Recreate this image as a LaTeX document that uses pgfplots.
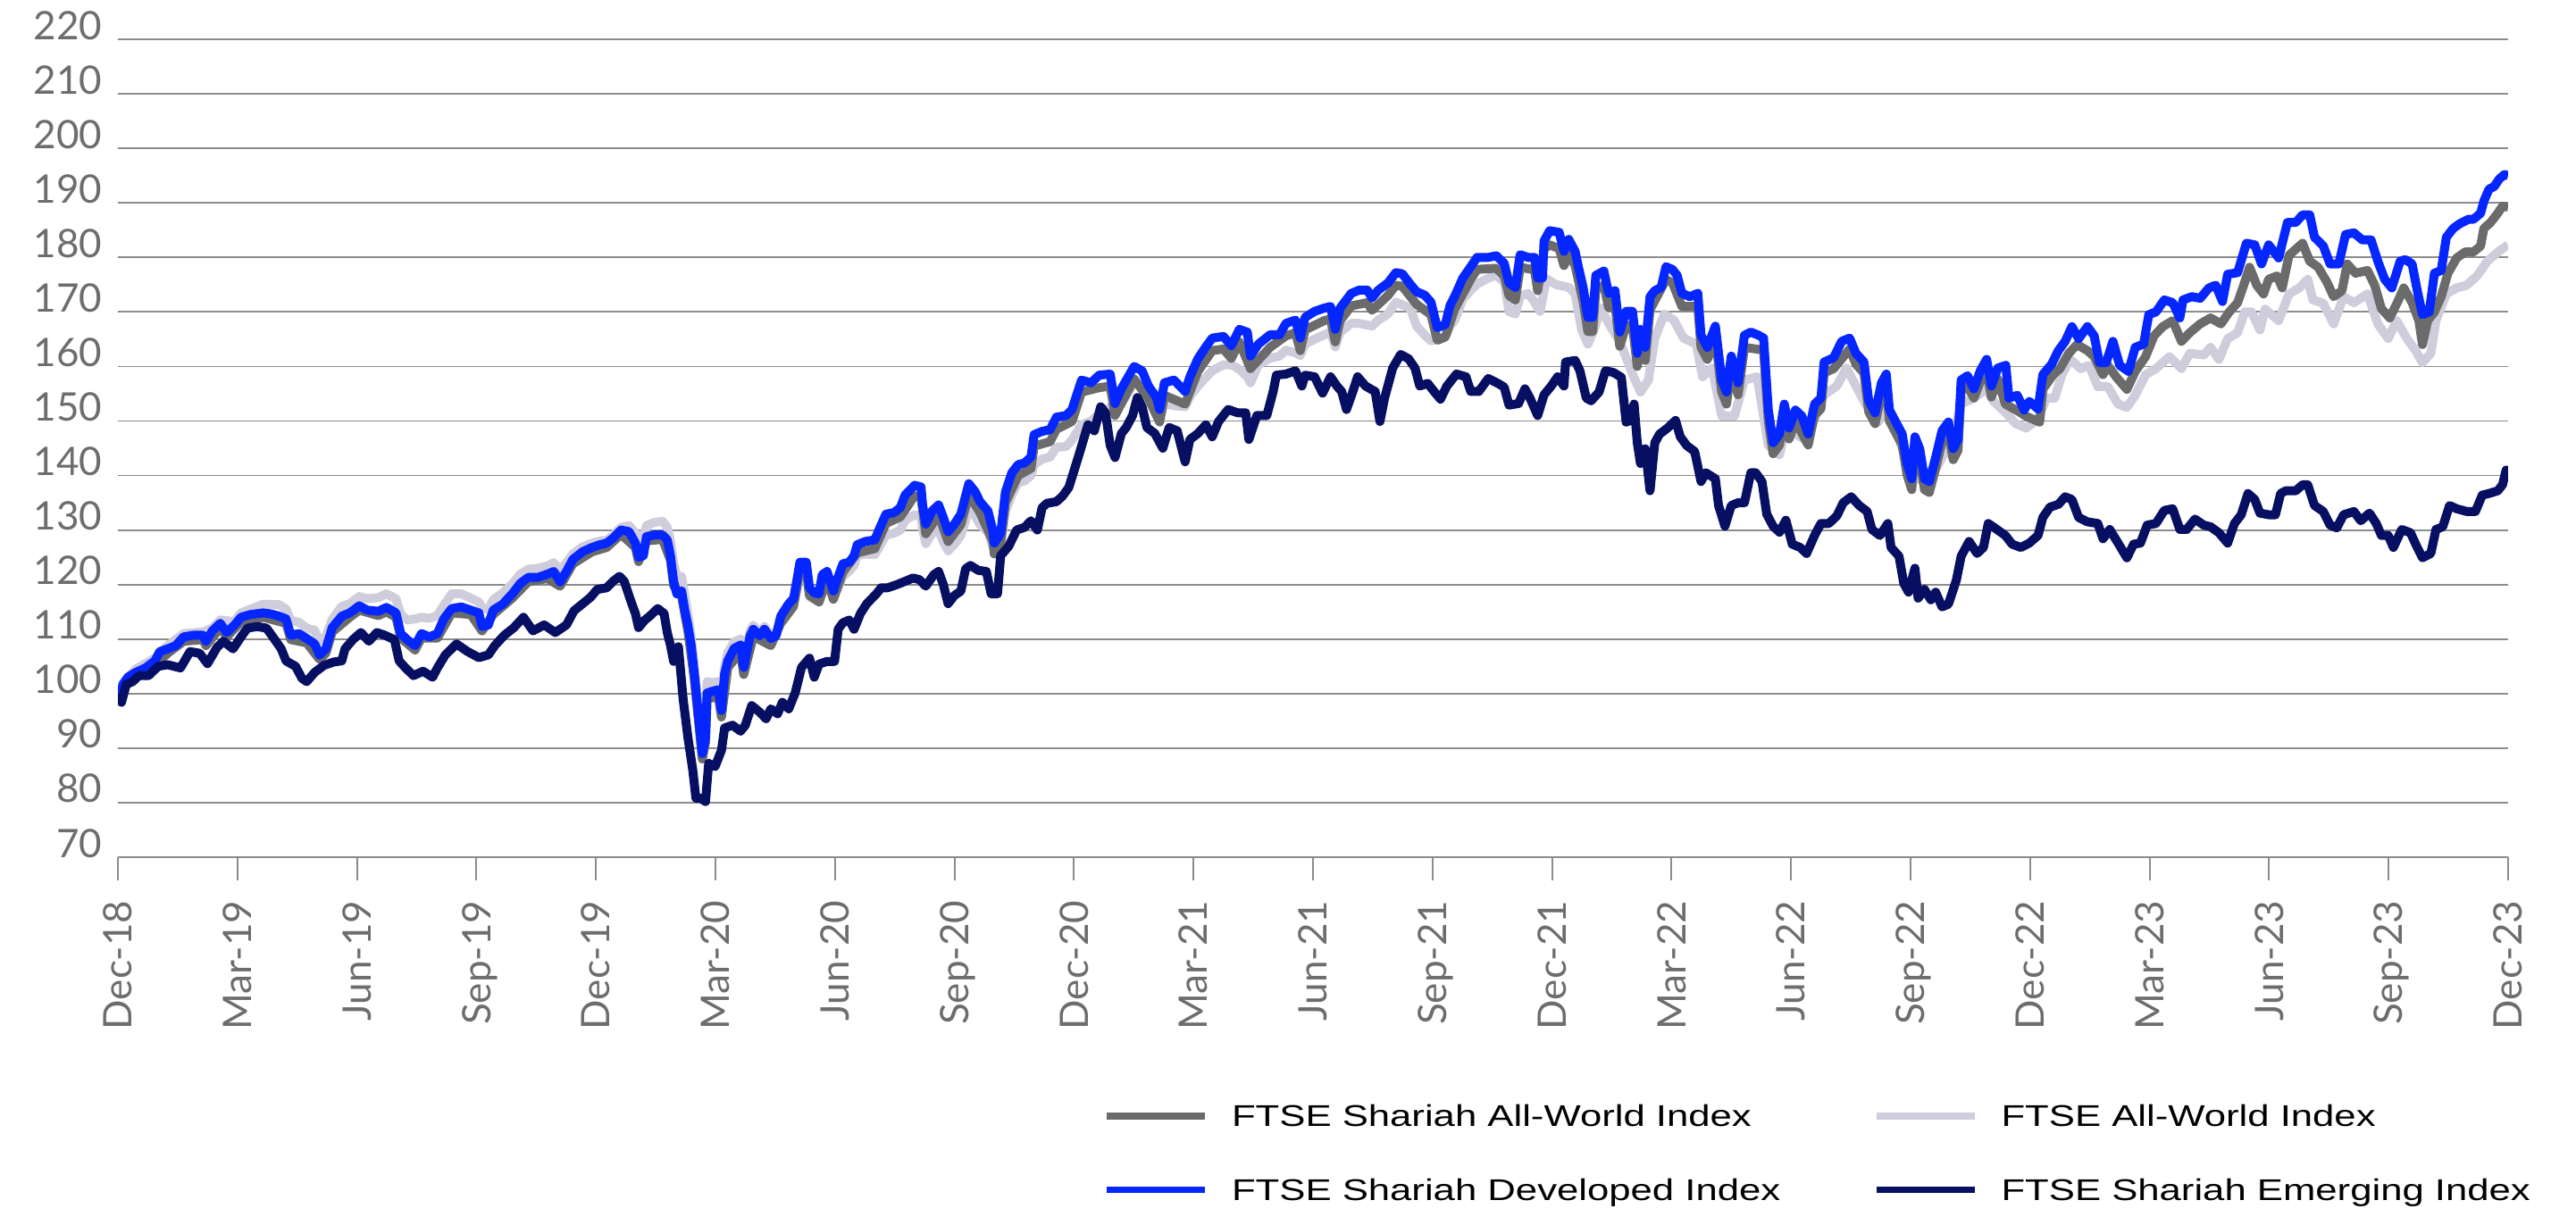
\documentclass[border=0pt]{standalone}
\usepackage{fontspec}
\setmainfont{Liberation Sans}
\newfontfamily\ticksfont{Lato}
\newfontfamily\legendfont[FakeStretch=1.3]{Liberation Sans}
\usepackage{pgfplots}
\pgfplotsset{compat=1.18}
\definecolor{swgray}{HTML}{6B6B6B}
\definecolor{awlight}{HTML}{CFCCDB}
\definecolor{devblue}{HTML}{0526FF}
\definecolor{emnavy}{HTML}{060F62}
\definecolor{gridgray}{HTML}{8C8C8C}
\definecolor{labelgray}{HTML}{6D6D6D}

\begin{document}
\begin{tikzpicture}
\useasboundingbox (-33pt,-100.5pt) rectangle (688pt,240pt);
\begin{axis}[
  at={(0pt,0pt)}, anchor=south west,
  scale only axis, width=669pt, height=229pt,
  xmin=0, xmax=60, ymin=70, ymax=220,
  xtick={0,3,...,60},
  xticklabels={Dec-18,Mar-19,Jun-19,Sep-19,Dec-19,Mar-20,Jun-20,Sep-20,Dec-20,Mar-21,Jun-21,Sep-21,Dec-21,Mar-22,Jun-22,Sep-22,Dec-22,Mar-23,Jun-23,Sep-23,Dec-23},
  ytick={70,80,...,220},
  /pgf/number format/assume math mode=true,
  axis x line*=bottom, axis y line*=left,
  y axis line style={draw=none},
  x axis line style={draw=gridgray, line width=0.5pt},
  tick align=outside, major tick length=6.5pt,
  xtick style={draw=gridgray, line width=0.5pt},
  ytick style={draw=none},
  ymajorgrids, grid style={draw=gridgray, line width=0.45pt},
  tick label style={font=\ticksfont\fontsize{11}{13}\selectfont, text=labelgray},
  x tick label style={rotate=90, anchor=east, text height=7.9pt, text depth=0pt, inner sep=0pt},
  xticklabel shift=5.5pt,
  y tick label style={anchor=base east, inner sep=0pt, xshift=2.3pt},
  legend columns=2,
  legend image code/.code={\draw[#1] (0pt,0pt) -- (27.5pt,0pt);},
  legend style={draw=none, fill=none, inner sep=0pt, at={(0.4122,-0.3026)}, anchor=north west,
    font=\legendfont\fontsize{8.4}{10}\selectfont, row sep=14.7pt,
    nodes={inner sep=0pt, text height=6pt, text depth=0pt},
    /tikz/every odd column/.append style={column sep=6.5pt},
    /tikz/every even column/.append style={column sep=26pt}},
  legend cell align=left,
  every axis plot/.append style={line width=2.5pt, line join=round},
]
\addlegendimage{swgray, line width=1.8pt}
\addlegendentry{FTSE Shariah All-World Index}
\addlegendimage{awlight, line width=1.8pt}
\addlegendentry{FTSE All-World Index}
\addlegendimage{devblue, line width=1.8pt}
\addlegendentry{FTSE Shariah Developed Index}
\addlegendimage{emnavy, line width=1.8pt}
\addlegendentry{FTSE Shariah Emerging Index}

% FTSE All-World Index
\addplot[awlight, forget plot] coordinates {
(0,100) (0.13,102) (0.45,104.5) (0.93,106.5) (1.25,108.8) (1.65,111) (2.13,111.3) (2.37,112) (2.57,113.5) (2.93,113.2)
(3.09,114.8) (3.33,115.5) (3.65,116.4) (4.05,116.3) (4.22,115.5) (4.34,113.4) (4.54,113.1) (4.74,112) (4.94,111.6) (5.06,109.5)
(5.22,110.5) (5.38,113.6) (5.62,116) (5.82,116.5) (6.06,117.8) (6.26,117.4) (6.54,117.6) (6.74,118.3) (6.98,117.4) (7.10,114.5)
(7.26,113.5) (7.46,113.7) (7.62,114) (7.82,113.8) (8.02,114.3) (8.18,116.2) (8.38,118.3) (8.62,118.3) (8.86,117.5) (9.06,116.8)
(9.14,115.8) (9.30,115.4) (9.42,117.2) (9.66,118.5) (9.90,120.1) (10.10,121.9) (10.30,122.8) (10.54,123) (10.78,123.4) (10.94,124)
(11.10,122.6) (11.26,124) (11.42,125.6) (11.66,126.9) (11.90,127.6) (12.10,128) (12.27,128.1) (12.43,129) (12.63,130.5) (12.83,130.8)
(12.99,129.5) (13.07,127.5) (13.19,128.3) (13.27,130.8) (13.47,131.4) (13.67,131.6) (13.79,130.5) (13.87,128) (13.95,124) (14.03,121.5)
(14.15,121.5) (14.23,118) (14.31,114.5) (14.39,110.5) (14.47,105) (14.59,96) (14.67,90.5) (14.75,94) (14.79,102.2) (14.91,102)
(15.07,102.2) (15.15,99) (15.23,105) (15.31,107.5) (15.47,109.5) (15.63,110) (15.71,106) (15.87,111.5) (15.95,112.5) (16.11,111.3)
(16.23,112.3) (16.39,110.5) (16.52,110.8) (16.64,113.8) (16.84,115.5) (16.96,116.2) (17.04,118.8) (17.12,121.5) (17.28,121.8) (17.36,117.8)
(17.48,117.3) (17.60,117.4) (17.68,119.6) (17.80,120.6) (17.96,117.4) (18.04,118.8) (18.20,121.5) (18.36,122.5) (18.48,123.5) (18.56,125.3)
(18.76,125.6) (19.00,125.5) (19.12,127) (19.28,129.1) (19.48,129.4) (19.64,130) (19.76,131.8) (20.00,132.8) (20.16,132.5) (20.20,130.2)
(20.28,127.5) (20.44,129.4) (20.60,130) (20.72,127.8) (20.84,126.2) (21.00,127.4) (21.16,129) (21.36,133.8) (21.52,132.6) (21.64,131)
(21.84,129.6) (21.96,127.1) (22.00,126.5) (22.16,127.3) (22.28,133.5) (22.44,136.5) (22.60,138.7) (22.76,139) (22.92,140) (23.00,142)
(23.20,143) (23.40,143.4) (23.56,145.2) (23.80,145.3) (23.95,146.5) (24.19,149.3) (24.43,150) (24.67,151.5) (24.91,152.5) (25.03,151.5)
(25.19,153.2) (25.51,157) (25.71,156.5) (25.87,155.4) (26.07,152.5) (26.15,150.4) (26.27,153.2) (26.51,152.8) (26.79,152.6) (26.91,154.5)
(27.11,156.4) (27.31,158) (27.47,159.2) (27.75,160.3) (27.95,160.3) (28.15,159.5) (28.35,158.1) (28.43,157) (28.63,160.3) (28.92,161.5)
(29.16,161.9) (29.32,163) (29.56,162.5) (29.68,162) (29.80,164.1) (30.04,165) (30.28,165.8) (30.44,166.3) (30.56,163.6) (30.68,166.3)
(30.96,167.9) (31.16,167.9) (31.48,167.4) (31.64,168.5) (31.88,169.6) (32.08,171.8) (32.24,171.3) (32.44,170.7) (32.60,167.4) (32.80,165.8)
(32.96,164.7) (33.12,165.2) (33.32,165.4) (33.44,167.4) (33.56,168.5) (33.76,172.3) (33.96,174) (34.12,175.1) (34.40,176.2) (34.60,176.7)
(34.80,175.5) (34.92,170.1) (35.08,169.6) (35.20,172.9) (35.40,173.4) (35.56,171.8) (35.70,170.1) (35.86,176.1) (36.10,175) (36.42,174.5)
(36.58,173.4) (36.74,166.8) (36.90,164.1) (37.06,166.8) (37.22,170.7) (37.46,167.4) (37.70,164.6) (38.02,158.6) (38.22,155.3) (38.42,157.5)
(38.58,165.2) (38.82,169.6) (39.06,168.5) (39.30,165.2) (39.62,164.1) (39.78,158.1) (40.02,159.7) (40.26,150.9) (40.58,150.9) (40.83,157.5)
(41.15,158.1) (41.43,145.5) (41.71,143.8) (41.87,148.7) (42.11,147.6) (42.35,146.6) (42.59,150.4) (42.83,154.8) (43.15,156.4) (43.39,159.7)
(43.55,157.5) (43.87,153.1) (44.19,149.8) (44.43,153.1) (44.67,147.6) (44.99,140.5) (45.31,138.9) (45.55,140) (45.79,143.3) (46.03,146)
(46.27,153.1) (46.59,154.2) (46.91,155.9) (47.07,153.7) (47.39,151.5) (47.64,149.5) (47.90,148.7) (48.20,150.3) (48.41,154.2) (48.62,154.2)
(48.80,158.5) (49.01,161.3) (49.27,159.6) (49.48,160.2) (49.70,156.3) (49.95,156.3) (50.21,153.1) (50.43,152.5) (50.64,154.7) (50.90,158.5)
(51.16,159.6) (51.50,161.8) (51.80,159.6) (52.01,162.4) (52.36,162.1) (52.53,163.5) (52.74,161.3) (52.96,165.1) (53.21,166.2) (53.39,170)
(53.56,170) (53.77,166.7) (53.90,170.5) (54.24,168.4) (54.50,173.3) (54.76,174.4) (54.97,176) (55.10,172.2) (55.36,171.6) (55.62,167.8)
(55.87,172.8) (56.13,171.7) (56.47,173.3) (56.73,167.8) (56.99,165.1) (57.20,168.4) (57.46,165.1) (57.68,162.9) (57.85,160.7) (58.06,162.4)
(58.19,168.4) (58.45,173.3) (58.70,174.4) (58.96,174.9) (59.22,176.6) (59.48,179.3) (59.65,180.4) (59.78,181.2) (60.00,182.3)
};

% FTSE Shariah All-World Index
\addplot[swgray, forget plot] coordinates {
(0,100) (0.13,101) (0.45,103.1) (0.93,105.2) (1.25,107.4) (1.65,109.6) (2.13,109.9) (2.21,108.8) (2.57,112.1) (2.73,110.4)
(3.09,113.2) (3.65,114) (4.22,112.9) (4.34,109.9) (4.74,109.3) (5.06,106.3) (5.22,107.4) (5.38,111.3) (5.82,114) (6.06,115.3)
(6.54,114.3) (6.74,115) (6.98,114) (7.10,110.2) (7.46,108) (7.62,110.2) (8.02,110.2) (8.38,114.8) (8.86,114.5) (9.14,111.5)
(9.42,114.5) (9.90,117.5) (10.30,120.5) (10.78,121.1) (11.10,119.7) (11.42,123.8) (11.90,126) (12.27,126.8) (12.63,129.2) (12.99,126.8)
(13.07,124.2) (13.27,128) (13.67,128.3) (13.87,124.5) (13.95,119.8) (14.15,117.8) (14.31,111.4) (14.47,102.6) (14.67,88) (14.75,91)
(14.79,99) (15.07,99.5) (15.15,95.7) (15.31,104.8) (15.63,107.6) (15.71,103.5) (15.95,110.5) (16.39,108.8) (16.64,112.9) (16.96,116)
(17.12,122.7) (17.28,122.7) (17.36,118) (17.60,116.8) (17.80,121) (17.96,117.3) (18.20,122.3) (18.56,125.8) (19.00,126.6) (19.28,131.2)
(19.64,132.4) (20.00,136.3) (20.16,136) (20.28,129.3) (20.60,132.8) (20.84,127.9) (21.16,131) (21.36,136.5) (21.64,133.2) (21.96,128)
(22.00,125.6) (22.16,127.6) (22.28,135) (22.60,140) (22.92,141.3) (23.00,145.4) (23.40,146.2) (23.56,148.5) (23.95,149.9) (24.19,155.3)
(24.63,156.1) (24.91,156.4) (25.03,151) (25.51,157.7) (25.87,154.1) (26.15,149.8) (26.27,154.7) (26.79,153.1) (27.11,159.1) (27.47,162.9)
(27.75,163.2) (27.95,161.5) (28.15,164.5) (28.43,159.6) (28.92,163.5) (29.32,165.6) (29.56,166.2) (29.68,162.9) (29.80,166.7) (30.28,168.4)
(30.44,168.7) (30.56,164.5) (30.68,168.4) (30.96,171.1) (31.36,171.7) (31.48,170.3) (31.88,173) (32.08,174.9) (32.24,174.7) (32.60,171.4)
(32.96,169.5) (33.12,164.8) (33.32,165.4) (33.56,170.6) (33.96,176) (34.12,177.8) (34.60,178) (34.80,176.6) (34.92,173) (35.08,172.2)
(35.20,178.2) (35.56,177.7) (35.64,173.9) (35.80,181.5) (35.94,182.3) (36.18,181.6) (36.30,178.5) (36.42,180.7) (36.58,178.5) (36.78,171.9)
(36.90,166.4) (37.02,166.4) (37.10,174.1) (37.30,174.9) (37.42,170.8) (37.58,171.3) (37.70,163.7) (37.86,167.5) (38.02,167.5) (38.14,160)
(38.22,164.4) (38.34,161.1) (38.46,170.4) (38.86,175.9) (39.02,175.4) (39.26,171) (39.66,171) (39.74,163.5) (39.90,161.3) (40.10,165.2)
(40.26,155.3) (40.38,153.1) (40.50,159.7) (40.67,154.8) (40.83,163.5) (41.31,163) (41.43,150) (41.55,144) (41.71,145.6) (41.83,151.1)
(41.95,146.7) (42.11,150) (42.43,145.6) (42.59,151.1) (42.75,152.2) (42.83,158.8) (43.07,159.6) (43.47,163.2) (43.63,160.4) (43.83,158.8)
(43.95,151.7) (44.11,149.5) (44.27,155) (44.39,156.6) (44.47,150) (44.79,145.6) (44.91,140.2) (45.03,137.4) (45.11,145.1) (45.23,142.9)
(45.35,137.4) (45.47,136.9) (45.63,141.3) (45.79,146.2) (45.95,147.8) (46.07,142.9) (46.19,144.6) (46.27,155.5) (46.43,156.3) (46.59,154.2)
(46.75,157.2) (46.91,159) (47.03,154.4) (47.19,157.7) (47.38,153.1) (47.72,151.7) (47.89,150.9) (48.24,149.8) (48.32,155.8) (48.58,158.5)
(48.75,159.6) (48.97,162.4) (49.18,164) (49.44,162.9) (49.61,161.8) (49.83,158.5) (49.95,160.2) (50.17,158) (50.43,155.8) (50.64,159.1)
(50.90,161.8) (51.11,165.6) (51.33,167.3) (51.58,168.4) (51.80,164.6) (52.01,166.2) (52.27,167.8) (52.53,168.9) (52.79,167.8) (53.00,170)
(53.21,171.7) (53.39,175.5) (53.51,178.2) (53.69,174.9) (53.86,173.3) (53.99,176) (54.20,176.6) (54.33,174.4) (54.50,180.4) (54.67,181.5)
(54.84,182.6) (55.02,179.3) (55.23,178.2) (55.45,175.5) (55.62,172.8) (55.83,173.9) (55.96,178.8) (56.17,177.1) (56.47,177.6) (56.65,174.9)
(56.82,170.6) (57.03,168.9) (57.25,172.2) (57.38,174.4) (57.59,171.7) (57.76,168.4) (57.85,164) (57.98,168.4) (58.15,170) (58.32,172.8)
(58.49,177.1) (58.71,179.9) (58.92,181) (59.13,181) (59.31,182.1) (59.39,185.3) (59.56,186.4) (59.74,188.1) (59.86,189.4) (60.00,189.2)
};

% FTSE Shariah Developed Index
\addplot[devblue, forget plot] coordinates {
(0,100) (0.05,99.5) (0.13,101.7) (0.25,103) (0.45,103.9) (0.69,104.7) (0.93,106) (1.05,107.7) (1.25,108.2) (1.45,108.8)
(1.65,110.4) (1.89,110.7) (2.13,110.7) (2.21,109.6) (2.37,111.5) (2.57,112.9) (2.73,111.2) (2.93,112.6) (3.09,114) (3.33,114.5)
(3.65,114.8) (3.85,114.6) (4.05,114.2) (4.22,113.7) (4.34,110.7) (4.54,111) (4.74,110.1) (4.94,109.1) (5.06,107.1) (5.22,108.2)
(5.38,112.1) (5.62,114.2) (5.82,114.8) (6.06,116.1) (6.26,115.3) (6.54,115.1) (6.74,115.8) (6.98,114.8) (7.10,111) (7.26,109.9)
(7.46,108.8) (7.62,111) (7.82,110.4) (8.02,111) (8.18,113.7) (8.38,115.6) (8.62,115.9) (8.86,115.3) (9.06,114.8) (9.14,112.3)
(9.30,112.6) (9.42,115.3) (9.66,116.4) (9.90,118.3) (10.10,120.2) (10.30,121.3) (10.54,121.3) (10.78,121.9) (10.94,122.4) (11.10,120.5)
(11.26,122.4) (11.42,124.6) (11.66,126) (11.90,126.8) (12.10,127.3) (12.27,127.6) (12.43,128.5) (12.63,130) (12.83,129.7) (12.99,127.6)
(13.07,125) (13.19,125.3) (13.27,128.8) (13.47,129.1) (13.67,129.1) (13.79,128.2) (13.87,125.3) (13.95,120.6) (14.03,118.3) (14.15,118.8)
(14.23,115.3) (14.31,112.4) (14.39,108.9) (14.47,103.6) (14.59,94.8) (14.67,89) (14.75,91.9) (14.79,100.1) (14.91,100.4) (15.07,100.7)
(15.15,96.9) (15.23,103.6) (15.31,106) (15.47,108.3) (15.63,108.9) (15.71,104.8) (15.87,110.6) (15.95,111.8) (16.11,110.6) (16.23,111.8)
(16.39,110.1) (16.52,110.6) (16.64,114.2) (16.84,116.5) (16.96,117.4) (17.04,120.6) (17.12,124.1) (17.28,124.1) (17.36,119.4) (17.48,118.5)
(17.60,118.3) (17.68,121.8) (17.80,122.4) (17.96,118.8) (18.04,120.6) (18.20,123.8) (18.36,124.1) (18.48,125.3) (18.56,127.3) (18.76,127.9)
(19.00,128.2) (19.12,130.3) (19.28,132.9) (19.48,133.2) (19.64,134.1) (19.76,136.4) (20.00,138.2) (20.16,137.9) (20.20,134.6) (20.28,131.1)
(20.44,133.5) (20.60,134.6) (20.72,132.3) (20.84,129.7) (21.00,131.1) (21.16,132.9) (21.36,138.5) (21.52,137) (21.64,135.2) (21.84,133.5)
(21.96,130) (22.00,127.6) (22.16,129.4) (22.28,137) (22.44,140.5) (22.60,142) (22.76,142.3) (22.92,143.4) (23.00,147.5) (23.20,148.1)
(23.40,148.4) (23.56,150.7) (23.80,151) (23.95,152.1) (24.19,157.5) (24.43,157) (24.63,158.4) (24.91,158.6) (25.03,153.2) (25.19,155.9)
(25.51,160) (25.71,159.2) (25.87,156.4) (26.07,154.3) (26.15,152.1) (26.27,157) (26.51,157.5) (26.79,155.4) (26.91,158.1) (27.11,161.4)
(27.31,163.6) (27.47,165.2) (27.75,165.5) (27.95,163.8) (28.15,166.8) (28.35,166.3) (28.43,161.9) (28.63,164.1) (28.92,165.8) (29.16,165.8)
(29.32,167.9) (29.56,168.5) (29.68,165.2) (29.80,169) (30.04,170.1) (30.28,170.7) (30.44,171) (30.56,166.8) (30.68,170.7) (30.96,173.4)
(31.16,174) (31.36,174) (31.48,172.6) (31.64,174) (31.88,175.3) (32.08,177.2) (32.24,177) (32.44,175.1) (32.60,173.7) (32.80,173.1)
(32.96,171.8) (33.12,167.1) (33.32,167.7) (33.44,171.2) (33.56,172.9) (33.76,176.2) (33.96,178.3) (34.12,180) (34.40,180) (34.60,180.3)
(34.80,178.9) (34.92,175.3) (35.08,174.5) (35.20,180.5) (35.40,180) (35.56,180) (35.64,176.2) (35.76,176.2) (35.80,183) (35.94,184.9)
(36.18,184.6) (36.30,181.1) (36.42,183.3) (36.58,181.1) (36.66,178.3) (36.78,174.5) (36.90,169) (37.02,169) (37.10,176.7) (37.30,177.5)
(37.42,173.4) (37.58,173.9) (37.70,166.3) (37.86,170.1) (38.02,170.1) (38.14,162.4) (38.22,166.8) (38.34,163.5) (38.46,172.8) (38.58,173.9)
(38.74,174.5) (38.86,178.3) (39.02,177.8) (39.14,176.7) (39.26,173.4) (39.46,172.8) (39.66,173.4) (39.74,165.7) (39.90,163.5) (40.10,167.4)
(40.26,157.5) (40.38,155.3) (40.50,161.9) (40.67,157) (40.83,165.7) (40.99,166.3) (41.19,165.7) (41.31,165.2) (41.43,152) (41.55,146)
(41.71,147.6) (41.83,153.1) (41.95,148.7) (42.11,152) (42.27,150.9) (42.43,147.6) (42.59,153.1) (42.75,154.2) (42.83,160.8) (43.07,161.6)
(43.27,164.6) (43.47,165.2) (43.63,162.4) (43.83,160.8) (43.95,153.7) (44.11,151.5) (44.27,157) (44.39,158.6) (44.47,152) (44.63,149.8)
(44.79,147.6) (44.91,142.2) (45.03,139.4) (45.11,147.1) (45.23,144.9) (45.35,139.4) (45.47,138.9) (45.63,143.3) (45.79,148.2) (45.95,149.8)
(46.07,144.9) (46.19,146.6) (46.27,157.5) (46.43,158.3) (46.59,155.9) (46.75,159.2) (46.91,161.3) (47.03,156.4) (47.19,159.7) (47.39,160.2)
(47.47,154.2) (47.68,154.7) (47.85,152) (47.98,153.6) (48.20,152.2) (48.32,158.5) (48.54,160.4) (48.71,162.9) (48.88,164.6) (49.05,167.3)
(49.22,165.1) (49.44,167.3) (49.61,165.6) (49.74,160.7) (49.91,160.7) (50.08,164.6) (50.25,160.2) (50.47,159.1) (50.64,163.5) (50.85,164.1)
(50.98,169.5) (51.16,170) (51.37,172.2) (51.58,171.7) (51.76,168.9) (51.84,172.2) (52.06,172.8) (52.27,172.5) (52.49,174.4) (52.66,174.9)
(52.83,171.9) (52.96,176.9) (53.21,177.2) (53.43,182.6) (53.64,182.3) (53.81,178.8) (53.99,182.3) (54.24,179.9) (54.46,186.4) (54.67,186.4)
(54.84,187.8) (55.02,187.8) (55.14,183.7) (55.36,182.1) (55.53,178.8) (55.75,178.8) (55.92,184.2) (56.13,184.5) (56.34,183.2) (56.56,183.2)
(56.73,179.3) (56.90,176) (57.08,174.4) (57.29,179.3) (57.42,179.6) (57.59,178.8) (57.72,173.9) (57.85,169.5) (58.02,170) (58.15,177.1)
(58.32,177.6) (58.45,183.7) (58.62,185.3) (58.79,186.2) (59.01,187) (59.13,187) (59.31,188.1) (59.39,190.3) (59.52,192.5) (59.65,193)
(59.78,194.4) (59.91,195.2) (60.00,195)
};

% FTSE Shariah Emerging Index
\addplot[emnavy, forget plot] coordinates {
(0,100) (0.09,98.4) (0.21,101.7) (0.37,102.2) (0.53,103.3) (0.77,103.3) (1.01,105) (1.25,105.3) (1.57,104.7) (1.81,107.7)
(2.05,107.4) (2.25,105.5) (2.49,108.5) (2.65,109.6) (2.89,108.2) (3.09,110.4) (3.25,112) (3.50,112.3) (3.73,112) (3.89,110.4)
(4.10,108.2) (4.22,106) (4.46,105) (4.62,102.8) (4.74,102.2) (4.94,103.9) (5.18,105.2) (5.42,105.8) (5.62,106) (5.70,108.2)
(5.90,109.9) (6.10,111.2) (6.30,109.6) (6.50,111.2) (6.70,110.7) (6.94,109.9) (7.06,106) (7.22,104.7) (7.42,103.3) (7.66,104.1)
(7.90,103) (8.02,104.7) (8.22,107.1) (8.50,109.1) (8.78,107.7) (9.06,106.6) (9.30,107.1) (9.46,108.8) (9.70,110.7) (9.94,112.1)
(10.18,114) (10.42,111.5) (10.70,112.6) (10.98,111.2) (11.26,112.6) (11.45,115.2) (11.67,116.5) (11.87,117.7) (12.03,119.1) (12.27,119.4)
(12.43,120.6) (12.59,121.5) (12.71,120.6) (12.87,117.1) (12.99,114.7) (13.07,112.1) (13.23,113.5) (13.35,114.2) (13.55,115.6) (13.71,114.7)
(13.79,111.2) (13.87,108.9) (13.95,105.9) (14.07,108.6) (14.19,98.9) (14.31,91.9) (14.43,86) (14.51,80.8) (14.63,80.8) (14.75,80.2)
(14.83,87.2) (14.99,86.6) (15.15,89.6) (15.23,93.7) (15.43,94.2) (15.63,93.1) (15.75,94.2) (15.91,97.8) (16.11,96.6) (16.27,95.4)
(16.39,97.2) (16.56,96.3) (16.68,98.4) (16.84,97.2) (17.00,100.1) (17.16,104.8) (17.36,106.5) (17.48,103) (17.60,105.4) (17.80,105.9)
(17.99,105.9) (18.08,111.8) (18.20,113) (18.36,113.5) (18.48,111.8) (18.64,114.7) (18.80,116.5) (18.88,117.1) (19.04,118.3) (19.16,119.4)
(19.32,119.4) (19.56,120) (19.76,120.6) (19.96,121.2) (20.12,120.9) (20.28,119.7) (20.48,121.8) (20.60,122.4) (20.72,120) (20.84,116.5)
(21.00,118) (21.16,118.8) (21.28,122.9) (21.40,123.5) (21.60,122.6) (21.80,122.4) (21.92,118.3) (22.08,118.3) (22.16,125.3) (22.36,127)
(22.56,130) (22.76,130.5) (22.92,131.7) (23.08,130) (23.20,134.1) (23.32,134.9) (23.56,135.2) (23.71,136.2) (23.87,137.8) (23.99,140.6)
(24.15,144.4) (24.35,149.3) (24.51,148.2) (24.67,152.6) (24.79,151.5) (24.91,145.5) (25.03,143.3) (25.19,147.7) (25.31,148.8) (25.47,151)
(25.59,154.3) (25.71,152.6) (25.83,148.8) (26.03,147.7) (26.23,145) (26.39,148.8) (26.59,148.2) (26.79,142.5) (26.91,146.6) (27.11,147.7)
(27.31,149.3) (27.47,147.1) (27.63,149.9) (27.87,152.1) (28.11,151.5) (28.31,151.5) (28.39,146.6) (28.59,151) (28.84,151) (29.00,155.4)
(29.08,158.4) (29.32,158.6) (29.56,159.2) (29.72,156.4) (29.80,158.4) (30.04,158.1) (30.24,155.1) (30.44,158.1) (30.60,156.4) (30.72,155.4)
(30.84,152.1) (31.00,155.4) (31.12,158.1) (31.32,156.4) (31.56,155.4) (31.68,149.9) (31.80,154.3) (32.00,159.7) (32.20,162.2) (32.40,161.4)
(32.56,159.7) (32.68,156.4) (32.88,156.9) (33.04,155.4) (33.20,154) (33.36,156.4) (33.60,158.6) (33.84,158.1) (33.96,155.4) (34.16,155.4)
(34.40,157.8) (34.64,156.9) (34.80,156.2) (34.92,152.9) (35.16,153.2) (35.32,155.9) (35.44,154.3) (35.64,151) (35.80,154.8) (35.98,156.4)
(36.14,158.1) (36.30,156.4) (36.34,160.8) (36.58,161.1) (36.70,159.2) (36.86,154.2) (36.98,153.7) (37.18,155.3) (37.34,159.2) (37.54,158.9)
(37.74,158) (37.86,149.8) (37.94,150) (38.06,153.1) (38.14,146) (38.22,142.2) (38.34,144.9) (38.46,137.2) (38.58,146) (38.70,147.6)
(38.90,148.7) (39.10,150.1) (39.22,147.1) (39.38,145.5) (39.58,144.4) (39.74,138.9) (39.86,140.5) (40.10,139.4) (40.18,134.5) (40.34,130.7)
(40.50,134.5) (40.67,135) (40.83,135) (40.99,140.5) (41.11,140.5) (41.27,138.9) (41.39,132.9) (41.55,130.7) (41.71,129.6) (41.87,131.8)
(42.03,127.4) (42.23,126.8) (42.39,125.7) (42.59,129) (42.75,131.2) (42.95,131.2) (43.15,132.6) (43.31,135) (43.51,136.1) (43.71,134.5)
(43.91,133.4) (44.03,130.1) (44.23,129) (44.43,131.2) (44.51,126.8) (44.71,125.2) (44.83,120.2) (44.95,118.6) (45.11,123) (45.19,117.5)
(45.35,119.1) (45.51,117.2) (45.63,118.6) (45.79,115.9) (45.95,116.4) (46.15,120.8) (46.27,125.2) (46.47,127.9) (46.67,125.7) (46.83,126.8)
(46.95,131.2) (47.11,130.4) (47.38,129) (47.55,127.4) (47.77,126.8) (47.98,127.6) (48.20,129) (48.32,132.3) (48.50,134.2) (48.71,134.7)
(48.88,136.1) (49.05,135.6) (49.22,132.3) (49.44,131.5) (49.70,131.2) (49.83,128.4) (50.00,130.1) (50.21,127.6) (50.43,124.9) (50.60,127.4)
(50.77,127.6) (50.94,130.9) (51.16,131.2) (51.37,133.6) (51.58,133.9) (51.76,130.1) (51.93,130.1) (52.14,132) (52.36,130.9) (52.53,130.6)
(52.74,129.5) (52.96,127.6) (53.13,131.2) (53.30,132.8) (53.47,136.7) (53.64,135.6) (53.77,133.1) (53.99,132.8) (54.16,132.8) (54.29,136.7)
(54.42,137.2) (54.67,137.2) (54.84,138.3) (54.97,138.3) (55.14,134.5) (55.36,133.4) (55.53,130.9) (55.70,130.4) (55.87,132.8) (56.13,133.4)
(56.30,131.7) (56.52,133.1) (56.69,131.2) (56.82,129) (56.99,129) (57.12,126.8) (57.33,130.1) (57.55,129.5) (57.68,127.4) (57.85,124.9)
(58.06,125.7) (58.19,130.1) (58.36,130.6) (58.53,134.5) (58.71,133.9) (58.96,133.4) (59.18,133.4) (59.35,136.4) (59.52,136.7) (59.74,137.2)
(59.86,138.3) (59.95,141) (60.00,140.5)
};
\end{axis}
\end{tikzpicture}
\end{document}
